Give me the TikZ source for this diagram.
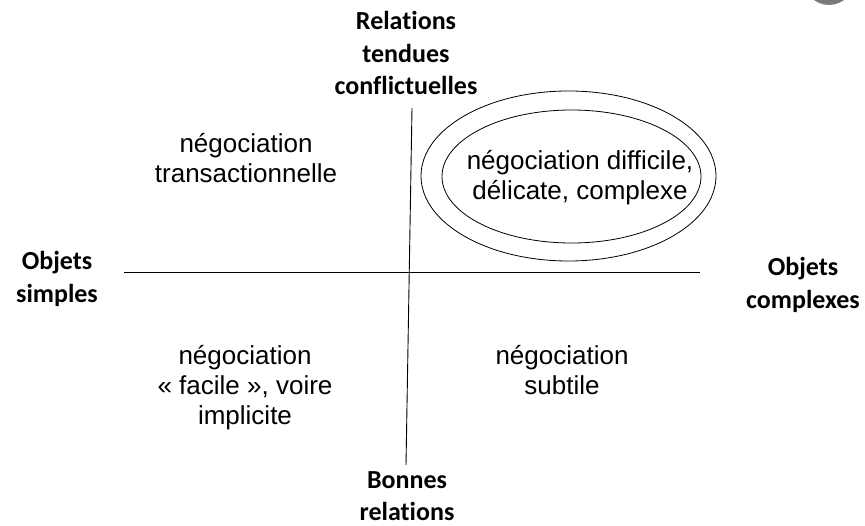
\documentclass[tikz,border=0pt]{standalone}
\usepackage{fontspec}
\setmainfont{Liberation Sans}
\newfontfamily\labelfont[Ligatures=NoCommon]{Carlito}
\begin{document}
\begin{tikzpicture}[x=1pt,y=-1pt,
  axislabel/.style={align=center,font=\labelfont\bfseries\fontsize{26}{32.5}\selectfont,inner sep=0pt},
  zonetext/.style={align=center,font=\fontsize{26}{30}\selectfont,inner sep=0pt},
  axisline/.style={line width=0.9pt},
  ringline/.style={line width=0.8pt}]
\useasboundingbox (0,0) rectangle (865,526);
% partial grey disc at top right
\begin{scope}
\clip (0,0) rectangle (865,526);
\shade[top color=black!80,bottom color=black!50] (829,-20) circle (25);
\end{scope}
% axes
\coordinate (vt) at (412,108);
\coordinate (vb) at (406,465);
\coordinate (hl) at (124,272);
\coordinate (hr) at (700,272);
\draw[axisline] (vt) -- (vb);
\draw[axisline] (hl) -- (hr);
% ellipses
\draw[ringline] (568.5,176) ellipse [x radius=147.5, y radius=85];
\draw[ringline] (571.5,176.5) ellipse [x radius=129.5, y radius=66.5];
% axis labels
\node[axislabel] (top) at (406,53) {Relations\\tendues\\conflictuelles};
\node[axislabel] (bottom) at (407,496) {Bonnes\\relations};
\node[axislabel] (left) at (57,279) {Objets\\simples};
\node[axislabel] (right) at (803,285) {Objets\\complexes};
% quadrant texts
\node[zonetext] (q1) at (246,158) {négociation\\transactionnelle};
\node[zonetext] (q2) at (580,178) {négociation difficile,\\délicate, complexe};
\node[zonetext] (q3) at (245,388) {négociation\\« facile », voire\\implicite};
\node[zonetext] (q4) at (562,370) {négociation\\subtile};
\end{tikzpicture}
\end{document}
